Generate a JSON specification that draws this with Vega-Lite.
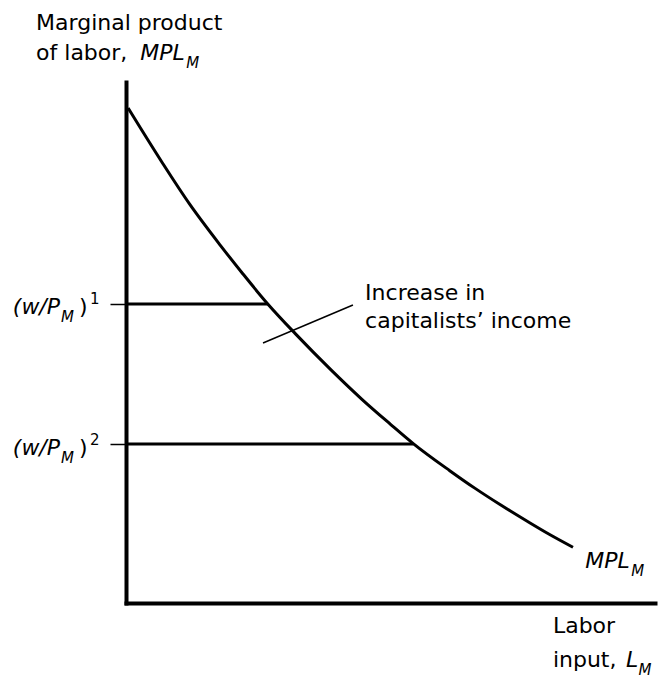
{
  "$schema": "https://vega.github.io/schema/vega-lite/v6.json",
  "autosize": "none",
  "padding": {"left": 126, "top": 82, "right": 7, "bottom": 75},
  "width": 529,
  "height": 521,
  "background": "white",
  "config": {"view": {"stroke": null}, "font": "DejaVu Sans"},
  "datasets": {
    "curve": [
      {"x": 0.4, "y": 95.0},
      {"x": 6.8, "y": 84.6},
      {"x": 12.0, "y": 76.6},
      {"x": 17.8, "y": 68.7},
      {"x": 22.0, "y": 63.3},
      {"x": 26.8, "y": 57.4},
      {"x": 32.0, "y": 51.7},
      {"x": 38.8, "y": 44.7},
      {"x": 44.6, "y": 39.1},
      {"x": 50.0, "y": 34.3},
      {"x": 54.3, "y": 30.6},
      {"x": 61.2, "y": 25.4},
      {"x": 66.0, "y": 22.0},
      {"x": 70.7, "y": 18.9},
      {"x": 76.0, "y": 15.6},
      {"x": 80.0, "y": 13.2},
      {"x": 84.5, "y": 10.7}
    ],
    "wages": [
      {"x": 0, "x2": 26.8, "y": 57.4},
      {"x": 0, "x2": 54.3, "y": 30.5}
    ],
    "leader": [
      {"x": 25.9, "y": 49.9, "x2": 42.9, "y2": 57.2}
    ],
    "plain": [
      {"x": -17.0, "y": 110.0, "t": "Marginal product"},
      {"x": -17.0, "y": 104.2, "t": "of labor,"},
      {"x": 45.2, "y": 58.2, "t": "Increase in"},
      {"x": 45.2, "y": 52.8, "t": "capitalists’ income"},
      {"x": 80.7, "y": -5.8, "t": "Labor"},
      {"x": 80.7, "y": -12.3, "t": "input,"},
      {"x": -8.9, "y": 55.5, "t": ")"},
      {"x": -8.9, "y": 28.4, "t": ")"}
    ],
    "italic": [
      {"x": 2.7, "y": 104.2, "t": "MPL"},
      {"x": 86.8, "y": 6.7, "t": "MPL"},
      {"x": 94.5, "y": -12.3, "t": "L"},
      {"x": -21.4, "y": 55.5, "t": "(w/P"},
      {"x": -21.4, "y": 28.4, "t": "(w/P"}
    ],
    "sub": [
      {"x": 11.4, "y": 104.2, "t": "M"},
      {"x": 95.5, "y": 6.7, "t": "M"},
      {"x": 96.9, "y": -12.3, "t": "M"},
      {"x": -12.3, "y": 55.5, "t": "M"},
      {"x": -12.3, "y": 28.4, "t": "M"}
    ],
    "sup": [
      {"x": -6.8, "y": 55.5, "t": "1"},
      {"x": -6.8, "y": 28.4, "t": "2"}
    ]
  },
  "encoding": {
    "x": {
      "field": "x", "type": "quantitative",
      "scale": {"domain": [0, 100], "nice": false, "zero": false},
      "axis": {"values": [], "labels": false, "ticks": false, "title": null, "grid": false,
               "domainColor": "black", "domainWidth": 4, "domainCap": "square"}
    },
    "y": {
      "field": "y", "type": "quantitative",
      "scale": {"domain": [0, 100], "nice": false, "zero": false},
      "axis": {"values": [30.5, 57.4], "labels": false, "ticks": true, "title": null, "grid": false,
               "domainColor": "black", "domainWidth": 4, "domainCap": "square",
               "tickColor": "black", "tickSize": 16, "tickWidth": 1.5}
    }
  },
  "layer": [
    {
      "data": {"name": "wages"},
      "mark": {"type": "rule", "color": "black", "strokeWidth": 3},
      "encoding": {"x2": {"field": "x2"}}
    },
    {
      "data": {"name": "leader"},
      "mark": {"type": "rule", "color": "black", "strokeWidth": 1.5},
      "encoding": {"x2": {"field": "x2"}, "y2": {"field": "y2"}}
    },
    {
      "data": {"name": "curve"},
      "mark": {"type": "line", "color": "black", "strokeWidth": 3, "interpolate": "monotone"},
      "encoding": {"order": {"field": "x", "type": "quantitative"}}
    },
    {
      "data": {"name": "plain"},
      "mark": {"type": "text", "font": "DejaVu Sans", "fontSize": 22, "align": "left", "baseline": "alphabetic", "color": "black"},
      "encoding": {"text": {"field": "t"}}
    },
    {
      "data": {"name": "italic"},
      "mark": {"type": "text", "font": "DejaVu Sans", "fontStyle": "italic", "fontSize": 22, "align": "left", "baseline": "alphabetic", "color": "black"},
      "encoding": {"text": {"field": "t"}}
    },
    {
      "data": {"name": "sub"},
      "mark": {"type": "text", "font": "DejaVu Sans", "fontStyle": "italic", "fontSize": 15, "align": "left", "baseline": "alphabetic", "dy": 8, "color": "black"},
      "encoding": {"text": {"field": "t"}}
    },
    {
      "data": {"name": "sup"},
      "mark": {"type": "text", "font": "DejaVu Sans", "fontSize": 15, "align": "left", "baseline": "alphabetic", "dy": -10, "color": "black"},
      "encoding": {"text": {"field": "t"}}
    }
  ]
}
